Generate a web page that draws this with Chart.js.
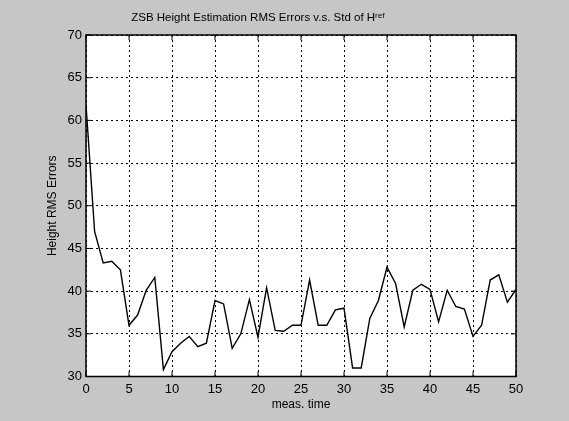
<!DOCTYPE html>
<html>
<head>
<meta charset="utf-8">
<script src="https://cdn.jsdelivr.net/npm/chart.js@4"></script>
<style>
  html, body { margin: 0; padding: 0; background: #c6c6c6; }
  #wrap { width: 569px; height: 421px; }
</style>
</head>
<body>
<div id="wrap"><canvas id="rmsChart"></canvas></div>
<script>
const measTimes = [0, 1, 2, 3, 4, 5, 6, 7, 8, 9, 10, 11, 12, 13, 14, 15, 16, 17, 18, 19, 20,
    21, 22, 23, 24, 25, 26, 27, 28, 29, 30, 31, 32, 33, 34, 35, 36, 37, 38, 39, 40,
    41, 42, 43, 44, 45, 46, 47, 48, 49, 50];
const rmsErrors = [61.8, 47.0, 43.3, 43.5, 42.5, 36.0, 37.2, 40.1, 41.6, 30.8, 32.9,
    33.9, 34.7, 33.5, 33.9, 38.9, 38.5, 33.3, 35.0, 39.0, 34.6,
    40.4, 35.4, 35.3, 36.0, 36.0, 41.3, 36.0, 36.0, 37.8, 38.0,
    31.0, 31.0, 36.8, 38.9, 42.8, 40.9, 35.8, 40.1, 40.8, 40.2,
    36.4, 40.1, 38.2, 37.9, 34.7, 36.0, 41.3, 41.9, 38.7, 40.2];
const xTicks = [0, 5, 10, 15, 20, 25, 30, 35, 40, 45, 50];
const yTicks = [30, 35, 40, 45, 50, 55, 60, 65, 70];

const FONT = 'Arial, "Liberation Sans", Helvetica, sans-serif';

// white axes box with black frame and inward tick marks (like matlab)
const axesBox = {
    id: 'axesBox',
    beforeDraw(chart) {
        const { ctx, chartArea: a } = chart;
        ctx.save();
        ctx.fillStyle = '#ffffff';
        ctx.fillRect(a.left, a.top, a.right - a.left, a.bottom - a.top);
        ctx.restore();
    },
    afterDraw(chart) {
        const { ctx, chartArea: a, scales } = chart;
        ctx.save();
        ctx.strokeStyle = '#000';
        ctx.lineWidth = 1.5;
        ctx.strokeRect(a.left, a.top, a.right - a.left, a.bottom - a.top);
        ctx.lineWidth = 1;
        ctx.beginPath();
        xTicks.forEach(v => {
            const px = scales.x.getPixelForValue(v);
            ctx.moveTo(px, a.bottom); ctx.lineTo(px, a.bottom - 5);
            ctx.moveTo(px, a.top); ctx.lineTo(px, a.top + 5);
        });
        yTicks.forEach(v => {
            const py = scales.y.getPixelForValue(v);
            ctx.moveTo(a.left, py); ctx.lineTo(a.left + 5, py);
            ctx.moveTo(a.right, py); ctx.lineTo(a.right - 5, py);
        });
        ctx.stroke();
        ctx.restore();
    }
};

new Chart(document.getElementById('rmsChart'), {
    type: 'line',
    data: {
        datasets: [{
            data: measTimes.map((t, i) => ({ x: t, y: rmsErrors[i] })),
            borderColor: '#000',
            borderWidth: 1.4,
            pointRadius: 0,
            tension: 0,
            fill: false
        }]
    },
    options: {
        responsive: true,
        maintainAspectRatio: false,
        animation: false,
        layout: { padding: { left: 0, right: 53, top: 0, bottom: 0 } },
        plugins: {
            legend: { display: false },
            tooltip: { enabled: false },
            title: {
                display: true,
                text: 'ZSB Height Estimation RMS Errors v.s. Std of H\u02B3\u1D49\u1DA0',
                color: '#000',
                font: { family: FONT, size: 11.5, weight: 'normal' },
                padding: { top: 10.5, bottom: 10.7 }
            }
        },
        scales: {
            x: {
                type: 'linear',
                min: 0, max: 50,
                afterBuildTicks: s => { s.ticks = xTicks.map(v => ({ value: v })); },
                afterFit: s => { s.height = 44.5; },
                grid: { color: '#000', lineWidth: 1, drawTicks: false },
                border: { display: false, dash: [2, 3] },
                ticks: { color: '#000', font: { family: FONT, size: 13 }, padding: 5, maxRotation: 0 },
                title: {
                    display: true, text: 'meas. time', color: '#000',
                    font: { family: FONT, size: 12 }, padding: { top: 0, bottom: 8.8 }
                }
            },
            y: {
                type: 'linear',
                min: 30, max: 70,
                afterBuildTicks: s => { s.ticks = yTicks.map(v => ({ value: v })); },
                afterFit: s => { s.width = 86; },
                grid: { color: '#000', lineWidth: 1, drawTicks: false },
                border: { display: false, dash: [2, 3] },
                ticks: { color: '#000', font: { family: FONT, size: 13 }, padding: 4 },
                title: {
                    display: true, text: 'Height RMS Errors', color: '#000',
                    font: { family: FONT, size: 12 }, padding: { top: 45, bottom: 0 }
                }
            }
        }
    },
    plugins: [axesBox]
});
</script>
</body>
</html>
